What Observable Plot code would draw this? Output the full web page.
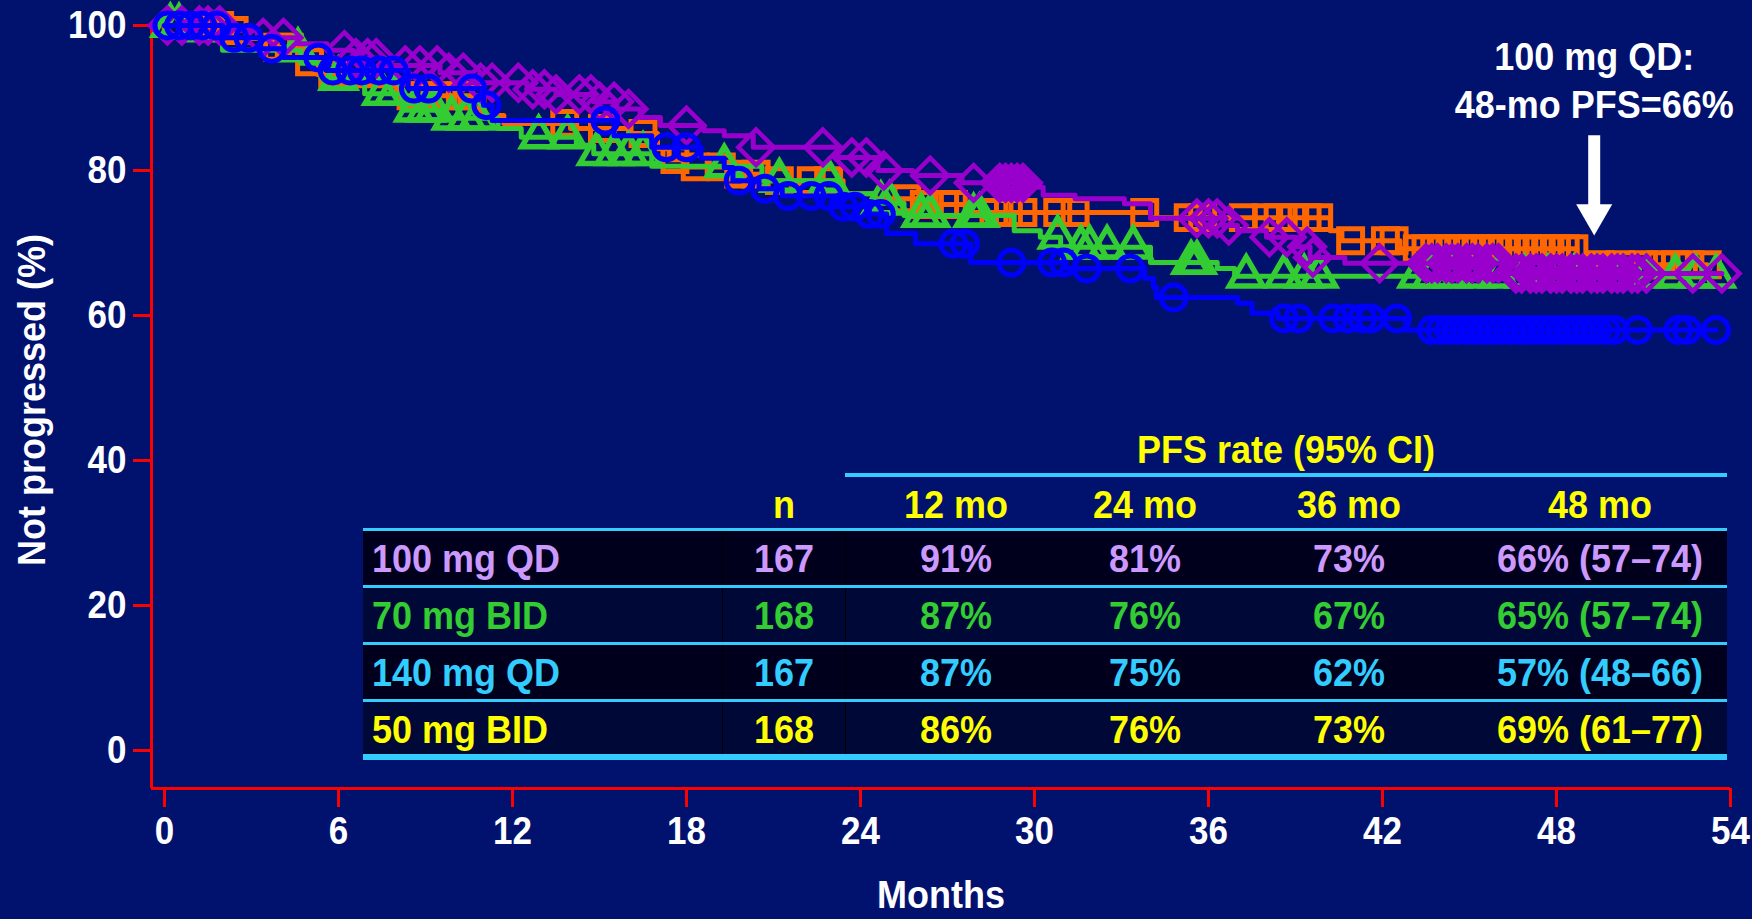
<!DOCTYPE html>
<html>
<head>
<meta charset="utf-8">
<script src="https://cdn.jsdelivr.net/npm/d3@7"></script>
<script src="https://cdn.jsdelivr.net/npm/@observablehq/plot@0.6"></script>
<style>
  html, body { margin: 0; padding: 0; background: #00126E; }
  #wrap { position: relative; width: 1752px; height: 919px; overflow: hidden; background: #00126E;
          font-family: "Liberation Sans", Arial, Helvetica, sans-serif; font-weight: bold; }
  #wrap svg { position: absolute; left: 0; top: 0; }
  .abs { position: absolute; }
  .t { position: absolute; font-size: 36px; line-height: 1; white-space: nowrap; transform: translate(-50%, -50%) scaleY(1.1); }
  .tl { position: absolute; font-size: 36px; line-height: 1; white-space: nowrap; transform: translate(0, -50%) scaleY(1.1); }
</style>
</head>
<body>
<div id="wrap"></div>
<script>
// ---------------- data ----------------
const armNames = ["100 mg QD", "70 mg BID", "140 mg QD", "50 mg BID"];
const armN = [167, 168, 167, 168];
const rate12 = ["91%", "87%", "87%", "86%"];
const rate24 = ["81%", "76%", "75%", "76%"];
const rate36 = ["73%", "67%", "62%", "73%"];
const rate48 = ["66% (57–74)", "65% (57–74)", "57% (48–66)", "69% (61–77)"];
const rateHeaders = ["12 mo", "24 mo", "36 mo", "48 mo"];
const monthTicks = [0, 6, 12, 18, 24, 30, 36, 42, 48, 54];
const pctTicks = [0, 20, 40, 60, 80, 100];

// 100 mg QD (purple diamonds)
const qd100Times = [0, 2.5, 3.2, 4.6, 5.6, 6.5, 7.6, 9.5, 10.6, 12.5, 13.5, 14.8, 15.6, 16.4, 17.1, 18.6, 19.3, 20.3, 23.2, 24.6, 25.8, 27.5, 29.9, 30.3, 31.4, 33.1, 34.0, 36.5, 37.0, 38.0, 39.0, 39.5, 40.7, 46.3];
const qd100Surv  = [100, 99.3, 98.3, 97.5, 96.6, 95.5, 94.5, 93.5, 92.1, 91.2, 90.5, 89.5, 88.5, 87.3, 86.2, 85.5, 84.8, 83.2, 81.8, 80.0, 79.3, 78.3, 77.7, 76.6, 76.1, 75.4, 73.4, 72.4, 71.7, 70.8, 69.5, 68.0, 67.2, 65.8];
const qd100Censor = [0.1, 0.6, 1.2, 1.5, 1.9, 3.4, 4.1, 6.2, 6.6, 7.0, 7.3, 8.3, 8.8, 9.4, 9.8, 10.3, 10.9, 11.3, 12.2, 12.7, 13.1, 13.5, 14.3, 14.7, 15.0, 15.5, 16.0, 18.0, 20.4, 22.7, 23.7, 24.2, 24.8, 26.4, 27.9, 28.8, 29.0, 29.2, 29.4, 29.6, 35.6, 36.0, 36.3, 36.7, 38.1, 38.7, 39.4, 39.6, 41.9, 43.5, 43.7, 43.9, 44.2, 44.4, 44.6, 44.9, 45.1, 45.3, 45.6, 45.8, 46.0, 46.6, 46.8, 47.1, 47.3, 47.5, 47.8, 48.0, 48.2, 48.5, 48.7, 48.9, 49.2, 49.4, 49.6, 49.9, 50.1, 50.3, 50.6, 50.8, 51.1, 52.7, 53.7];

// 70 mg BID (green triangles)
const bid70Times = [0, 0.6, 2.0, 4.7, 5.4, 6.9, 8.2, 9.6, 11.5, 12.3, 14.2, 14.8, 16.8, 20.6, 23.2, 24.5, 25.5, 29.3, 30.2, 30.9, 34.0, 36.3, 36.9];
const bid70Surv  = [100, 98.0, 96.6, 94.8, 92.7, 90.6, 88.3, 87.2, 85.8, 84.6, 83.5, 82.3, 80.6, 78.6, 76.8, 75.5, 73.8, 71.7, 70.8, 69.4, 67.3, 66.5, 65.4];
const bid70Censor = [0.2, 0.5, 4.6, 6.0, 7.5, 7.9, 8.6, 9.0, 9.3, 9.9, 10.4, 10.8, 12.9, 13.9, 14.9, 15.5, 16.0, 16.5, 19.3, 21.2, 22.9, 24.7, 25.0, 26.1, 26.4, 27.9, 28.1, 30.8, 31.6, 31.9, 32.5, 33.4, 35.4, 35.6, 37.3, 38.6, 39.3, 39.8, 43.2, 43.7, 44.4, 45.2, 46.0, 46.9, 47.7, 48.6, 49.4, 50.3, 51.1, 52.1, 52.8, 53.5];

// 140 mg QD (blue circles)
const qd140Times = [0, 2.0, 3.3, 4.1, 5.6, 8.4, 11.0, 11.3, 15.5, 16.8, 18.5, 19.3, 19.6, 20.5, 21.3, 23.2, 24.3, 24.9, 25.9, 27.8, 31.1, 33.8, 34.1, 34.2, 37.0, 37.5, 38.4, 42.8];
const qd140Surv  = [100, 98.3, 96.8, 95.6, 93.8, 91.3, 89.0, 86.9, 84.8, 83.2, 81.7, 80.4, 78.6, 77.5, 76.5, 75.0, 74.0, 71.3, 69.9, 67.3, 66.5, 65.1, 63.9, 62.5, 61.7, 60.3, 59.6, 58.0];
const qd140Censor = [0.1, 0.5, 0.9, 1.3, 1.8, 2.4, 2.9, 3.7, 5.3, 5.8, 6.4, 6.8, 7.4, 7.9, 8.6, 9.1, 10.6, 11.1, 15.2, 17.3, 18.0, 19.8, 20.7, 21.5, 22.3, 22.9, 23.4, 23.8, 24.3, 24.7, 27.2, 27.6, 29.2, 30.6, 31.0, 31.8, 33.3, 34.8, 38.6, 39.1, 40.3, 40.8, 41.3, 41.6, 42.5, 43.7, 44.0, 44.3, 44.6, 44.9, 45.2, 45.5, 45.8, 46.1, 46.4, 46.7, 47.0, 47.3, 47.6, 47.9, 48.2, 48.5, 48.8, 49.1, 49.4, 49.7, 50.0, 50.8, 52.2, 52.5, 53.5];

// 50 mg BID (orange squares)
const bid50Times = [0, 2.0, 2.9, 3.8, 4.8, 5.3, 6.1, 8.0, 10.9, 11.7, 14.0, 16.0, 17.0, 17.4, 18.0, 19.5, 20.6, 23.4, 24.5, 26.0, 27.8, 34.0, 40.2, 40.6, 42.6, 48.7];
const bid50Surv  = [100, 99.3, 98.2, 97.0, 95.0, 93.2, 91.7, 90.3, 87.6, 86.5, 85.8, 85.1, 83.0, 81.5, 80.5, 79.5, 78.6, 76.8, 76.1, 75.3, 74.2, 73.5, 71.7, 70.3, 69.2, 67.0];
const bid50Censor = [0.4, 0.9, 1.4, 1.9, 2.4, 3.9, 4.3, 5.0, 5.8, 8.5, 9.0, 9.6, 10.2, 10.6, 13.8, 15.1, 16.5, 17.6, 18.3, 19.2, 19.8, 20.4, 21.2, 22.3, 22.9, 25.6, 26.2, 26.9, 27.2, 28.6, 29.1, 29.6, 30.8, 31.4, 33.8, 35.3, 35.8, 37.2, 38.0, 38.4, 38.9, 39.4, 39.8, 40.9, 42.1, 42.4, 43.2, 43.5, 43.8, 44.1, 44.4, 44.7, 45.0, 45.3, 45.6, 45.9, 46.2, 46.5, 46.8, 47.1, 47.4, 47.7, 48.0, 48.3, 48.6, 49.5, 50.2, 51.0, 51.6, 52.1, 52.6, 53.2];

const callout = ["100 mg QD:", "48-mo PFS=66%"];

// ---------------- styles ----------------
const AXIS = "#FF0000";
const tableColors = ["#CC99FF", "#33CC33", "#33CCFF", "#FFFF00"];
const FONT = '"Liberation Sans", Arial, Helvetica, sans-serif';

const xDomain = [-0.45, 54];
const yDomain = [-5.24, 100];

function survAt(times, surv, t) {
  let v = surv[0];
  for (let i = 0; i < times.length; i++) if (times[i] <= t) v = surv[i];
  return v;
}
function series(times, surv, censor) {
  const end = Math.max(...censor, ...times);
  const path = times.map((t, i) => ({month: t, pct: surv[i]}));
  path.push({month: end, pct: surv[surv.length - 1]});
  const cens = censor.map(t => ({month: t, pct: survAt(times, surv, t)}));
  return {path, cens};
}

const arms = [
  {s: series(bid50Times, bid50Surv, bid50Censor), color: "#FF6600", symbol: "square", r: 13.5, sw: 5},
  {s: series(bid70Times, bid70Surv, bid70Censor), color: "#33CC33", symbol: "triangle", r: 12.5, sw: 5.5},
  {s: series(qd100Times, qd100Surv, qd100Censor), color: "#9900CC", symbol: "diamond2", r: 16, sw: 4.5},
  {s: series(qd140Times, qd140Surv, qd140Censor), color: "#0000FF", symbol: "circle", r: 12.5, sw: 5}
];

const marks = [];
for (const a of arms) {
  marks.push(Plot.line(a.s.path, {x: "month", y: "pct", curve: "step-after", stroke: a.color, strokeWidth: 5}));
  marks.push(Plot.dot(a.s.cens, {x: "month", y: "pct", symbol: a.symbol, r: a.r, stroke: a.color, strokeWidth: a.sw, fill: "none"}));
}

const calloutMonth = 49.3;
const arrowTop = 84.8, arrowShaftEnd = 75.0, arrowHead = 73.9;

const chart = Plot.plot({
  width: 1752,
  height: 919,
  marginLeft: 151,
  marginRight: 22,
  marginTop: 25,
  marginBottom: 131,
  style: {background: "none", color: "white", fontFamily: FONT, overflow: "visible"},
  x: {domain: xDomain},
  y: {domain: yDomain},
  marks: [
    Plot.axisY({ticks: pctTicks, tickSize: 18, tickPadding: 7, stroke: AXIS, strokeWidth: 3, fill: "white",
                fontSize: 35, fontWeight: "bold", label: null}),
    Plot.axisX({ticks: monthTicks, tickSize: 19, tickPadding: 9, stroke: AXIS, strokeWidth: 3, fill: "white",
                fontSize: 35, fontWeight: "bold", label: null}),
    Plot.ruleX([xDomain[0]], {stroke: AXIS, strokeWidth: 3}),
    Plot.ruleY([yDomain[0]], {stroke: AXIS, strokeWidth: 3}),
    Plot.text(["Not progressed (%)"], {frameAnchor: "left", dx: -119, dy: -7, rotate: -90, textAnchor: "middle",
                lineAnchor: "middle", fill: "white", fontSize: 36, fontWeight: "bold"}),
    Plot.text(["Months"], {frameAnchor: "bottom", dy: 107, lineAnchor: "middle", textAnchor: "middle",
                fill: "white", fontSize: 36, fontWeight: "bold"}),
    ...marks,
    Plot.text([callout.join("\n")], {x: calloutMonth, frameAnchor: "top", dy: 53.5, lineAnchor: "middle",
                lineHeight: 1.2, fill: "white", fontSize: 36, fontWeight: "bold"}),
    Plot.ruleX([calloutMonth], {y1: arrowTop, y2: arrowShaftEnd, stroke: "white", strokeWidth: 12}),
    Plot.dot([calloutMonth], {x: d => d, y: () => arrowHead, symbol: "triangle", r: 13.4, rotate: 180, fill: "white", stroke: "none"})
  ]
});

// stretch SVG text slightly taller (reference uses a condensed bold face)
d3.select(chart).selectAll("text").each(function () {
  const t = this.getAttribute("transform");
  if (t && t.includes("translate")) this.setAttribute("transform", t + " scale(1,1.1)");
});

const wrap = document.getElementById("wrap");
wrap.appendChild(chart);

// ---------------- table overlay ----------------
function el(cls, styles, text) {
  const d = document.createElement("div");
  d.className = cls;
  Object.assign(d.style, styles);
  if (text != null) d.textContent = text;
  wrap.appendChild(d);
  return d;
}
const CYAN = "#33CCFF";
const tLeft = 363, tRight = 1727;
const colN = 784, colRates = [956, 1145, 1349, 1600];
const rowTop0 = 531, rowPitch = 57, rowH = 54;
const rowBg = ["#00001C", "#000838", "#00001C", "#000838"];

el("abs", {left: "845px", top: "473px", width: (tRight - 845) + "px", height: "4px", background: CYAN});
el("t", {left: ((845 + tRight) / 2) + "px", top: "450px", color: "#FFFF00"}, "PFS rate (95% CI)");
el("t", {left: colN + "px", top: "505px", color: "#FFFF00"}, "n");
rateHeaders.forEach((h, i) => el("t", {left: colRates[i] + "px", top: "505px", color: "#FFFF00"}, h));
el("abs", {left: tLeft + "px", top: "528px", width: (tRight - tLeft) + "px", height: "3px", background: CYAN});
armNames.forEach((name, i) => {
  const top = rowTop0 + i * rowPitch;
  el("abs", {left: tLeft + "px", top: top + "px", width: (tRight - tLeft) + "px", height: rowH + "px", background: rowBg[i]});
  el("abs", {left: "722px", top: top + "px", width: "1px", height: rowH + "px", background: "#000000"});
  el("abs", {left: "845px", top: top + "px", width: "1px", height: rowH + "px", background: "#000000"});
  const cy = top + rowH / 2 + 1;
  const c = tableColors[i];
  el("tl", {left: "372px", top: cy + "px", color: c}, name);
  el("t", {left: colN + "px", top: cy + "px", color: c}, String(armN[i]));
  [rate12, rate24, rate36, rate48].forEach((arr, j) => el("t", {left: colRates[j] + "px", top: cy + "px", color: c}, arr[i]));
  if (i < 3) el("abs", {left: tLeft + "px", top: (top + rowH) + "px", width: (tRight - tLeft) + "px", height: "3px", background: CYAN});
});
el("abs", {left: tLeft + "px", top: "754px", width: (tRight - tLeft) + "px", height: "6px", background: CYAN});
</script>
</body>
</html>
